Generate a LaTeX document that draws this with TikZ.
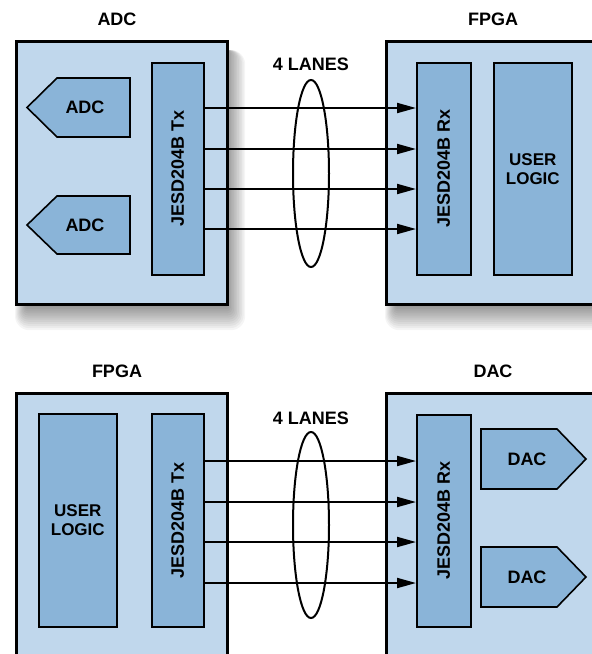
\documentclass[tikz,border=0pt]{standalone}
\usepackage{fontspec}
\setmainfont{Liberation Sans}
\usetikzlibrary{shapes.geometric,arrows.meta}
\definecolor{outerblue}{HTML}{C0D7EC}
\definecolor{innerblue}{HTML}{8AB4D8}
\newcommand\softshadow[4]{%
  \foreach \r in {1,...,12}{%
    \fill[black, opacity=0.038, rounded corners=1.2*\r pt]
      ({#1+12-\r}, {#2+10}) rectangle ({#3+1.6*\r}, {#4+2+2.1*\r});
  }}
\begin{document}
\begin{tikzpicture}[x=1pt,y=-1pt,
  font=\fontsize{18}{18}\selectfont\bfseries,
  outerbox/.style={draw=black, line width=2.6pt, fill=outerblue, anchor=north west, inner sep=0pt},
  innerbox/.style={draw=black, line width=1.6pt, fill=innerblue, anchor=north west, inner sep=0pt, align=center},
  ulbox/.style={innerbox, font=\fontsize{17}{19}\selectfont\bfseries},
  pent/.style={draw=black, line width=1.6pt, fill=innerblue},
  lane/.style={line width=2pt, -{Triangle[length=19pt,width=10pt]}},
  bundle/.style={draw=black, line width=2pt, ellipse, inner sep=0pt, minimum width=36pt},
  lbl/.style={inner sep=0pt}
]
\useasboundingbox (0,0) rectangle (592,654);
\clip (0,0) rectangle (592,654);
\fill[white] (0,0) rectangle (592,654);

% ---------- top: ADC -> FPGA ----------
\node[lbl] (tadc) at (117,19) {ADC};
\node[lbl] (tfpga) at (493,19) {FPGA};
\node[lbl] (tlanes) at (311,64) {4 LANES};

\softshadow{15}{40}{226}{303}
\softshadow{385}{40}{615}{303}
\node[outerbox, minimum width=211pt, minimum height=263pt] (adcchip) at (15,40) {};
\node[outerbox, minimum width=230pt, minimum height=263pt] (fpgachip) at (385,40) {};

\node[innerbox, minimum width=52pt, minimum height=212pt] (tx1) at (151,62) {\rotatebox{90}{JESD204B Tx}};
\node[innerbox, minimum width=54pt, minimum height=212pt] (rx1) at (416,62) {\rotatebox{90}{JESD204B Rx}};
\node[ulbox, minimum width=78pt, minimum height=212pt] (ul1) at (493,62) {USER\\LOGIC};

\draw[pent] (130,78) -- (57,78) -- (27,107.5) -- (57,137) -- (130,137) -- cycle;
\node[lbl] (adc1) at (85,107.5) {ADC};
\draw[pent] (130,196) -- (57,196) -- (27,225) -- (57,254) -- (130,254) -- cycle;
\node[lbl] (adc2) at (85,225) {ADC};

\foreach \yy in {108,149,189,229}
  \draw[lane] (tx1.east |- 0,\yy) -- (rx1.west |- 0,\yy);
\node[bundle, minimum height=187pt] (ell1) at (311,173.5) {};

% ---------- bottom: FPGA -> DAC ----------
\node[lbl] (bfpga) at (117,371) {FPGA};
\node[lbl] (bdac) at (493,371) {DAC};
\node[lbl] (blanes) at (311,418) {4 LANES};

\node[outerbox, minimum width=211pt, minimum height=300pt] (fpgachip2) at (15,392) {};
\node[outerbox, minimum width=230pt, minimum height=300pt] (dacchip) at (385,392) {};

\node[ulbox, minimum width=78pt, minimum height=213pt] (ul2) at (38,413) {USER\\LOGIC};
\node[innerbox, minimum width=52pt, minimum height=213pt] (tx2) at (151,413) {\rotatebox{90}{JESD204B Tx}};
\node[innerbox, minimum width=54pt, minimum height=212pt] (rx2) at (416,414) {\rotatebox{90}{JESD204B Rx}};

\draw[pent] (481,429) -- (557,429) -- (586,459) -- (557,489) -- (481,489) -- cycle;
\node[lbl] (dac1) at (527,459) {DAC};
\draw[pent] (481,547) -- (557,547) -- (586,577) -- (557,607) -- (481,607) -- cycle;
\node[lbl] (dac2) at (527,577) {DAC};

\foreach \yy in {461,502,542,583}
  \draw[lane] (tx2.east |- 0,\yy) -- (rx2.west |- 0,\yy);
\node[bundle, minimum height=186pt] (ell2) at (311,525) {};
\end{tikzpicture}
\end{document}
